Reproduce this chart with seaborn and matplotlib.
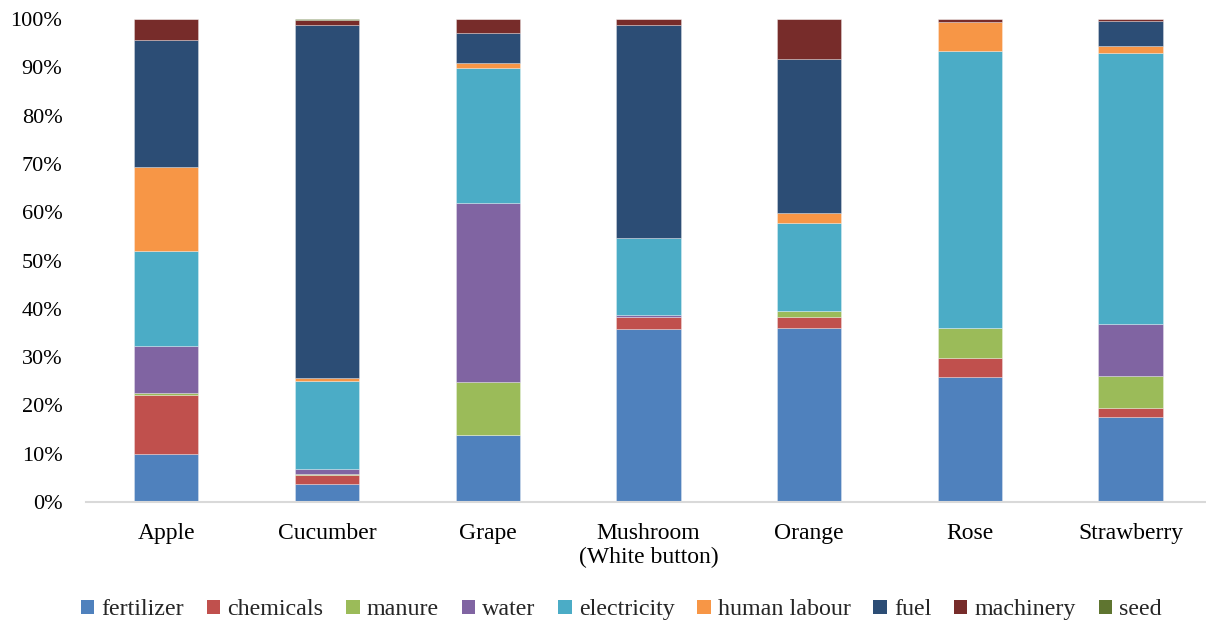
import numpy as np
import pandas as pd
import matplotlib
matplotlib.use("Agg")
import matplotlib.pyplot as plt
from matplotlib.patches import Patch
from matplotlib.ticker import PercentFormatter
import seaborn as sns

crops = ["Apple", "Cucumber", "Grape", "Mushroom\n(White button)", "Orange", "Rose", "Strawberry"]
inputs = ["fertilizer", "chemicals", "manure", "water", "electricity",
          "human labour", "fuel", "machinery", "seed"]

# share of each input in total energy use (%), per crop
fertilizer   = [10.0,  3.8, 13.8, 35.9, 36.1, 25.9, 17.6]
chemicals    = [12.1,  1.7,  0.0,  2.3,  2.3,  4.0,  1.9]
manure       = [ 0.5,  0.2, 11.0,  0.0,  1.1,  6.1,  6.6]
water        = [ 9.7,  1.1, 37.1,  0.5,  0.0,  0.0, 10.8]
electricity  = [19.6, 18.3, 28.0, 16.0, 18.3, 57.3, 56.1]
human_labour = [17.5,  0.5,  1.0,  0.0,  2.1,  6.1,  1.5]
fuel         = [26.3, 73.1,  6.1, 44.1, 31.8,  0.0,  5.0]
machinery    = [ 4.3,  1.0,  3.0,  1.2,  8.3,  0.6,  0.5]
seed         = [ 0.0,  0.3,  0.0,  0.0,  0.0,  0.0,  0.0]

series = [fertilizer, chemicals, manure, water, electricity,
          human_labour, fuel, machinery, seed]
colors = ["#4F81BD", "#C0504D", "#9BBB59", "#8064A2", "#4BACC6",
          "#F79646", "#2C4D75", "#772C2A", "#5F7530"]

df = pd.DataFrame({"crop": [c for c in crops for _ in inputs],
                   "input": [i for _ in crops for i in inputs],
                   "share": [s[k] / 100 for k in range(len(crops)) for s in series]})

sns.set_theme(style="white")
plt.rcParams["font.family"] = ["Liberation Serif", "DejaVu Serif"]

fig = plt.figure(figsize=(12.06, 6.23), dpi=100)
ax = fig.add_axes([86 / 1206, 121 / 623, 1125 / 1206, 483 / 623])

bottom = np.zeros(len(crops))
for name, color in zip(inputs, colors):
    sub = df[df["input"] == name].set_index("crop").loc[crops].reset_index()
    sns.barplot(data=sub, x="crop", y="share", order=crops, color=color,
                width=0.4, bottom=bottom, ax=ax, edgecolor=(1, 1, 1, 0.35),
                linewidth=0.6, saturation=1)
    bottom = bottom + sub["share"].to_numpy()

ax.set_xlim(-0.5, 6.5)
ax.set_ylim(0, 1)
ax.set_yticks(np.arange(0, 1.01, 0.1))
ax.yaxis.set_major_formatter(PercentFormatter(1.0, decimals=0))
ax.set_xlabel("")
ax.set_ylabel("")
for side in ["left", "right", "top"]:
    ax.spines[side].set_visible(False)
ax.spines["bottom"].set_color("#D9D9D9")
ax.spines["bottom"].set_linewidth(1.5)
ax.tick_params(axis="y", length=0, pad=17, labelsize=16, colors="black")
ax.tick_params(axis="x", length=0, pad=15, labelsize=17, colors="black")
ax.grid(False)

handles = [Patch(facecolor=c, edgecolor="none") for c in colors]
fig.legend(handles, inputs, loc="center", bbox_to_anchor=(0.5153, 0.021),
           ncol=len(inputs), frameon=False, fontsize=17.3,
           handlelength=0.55, handleheight=0.55, handletextpad=0.3,
           columnspacing=0.95)

fig.savefig("out.png", dpi=100)
